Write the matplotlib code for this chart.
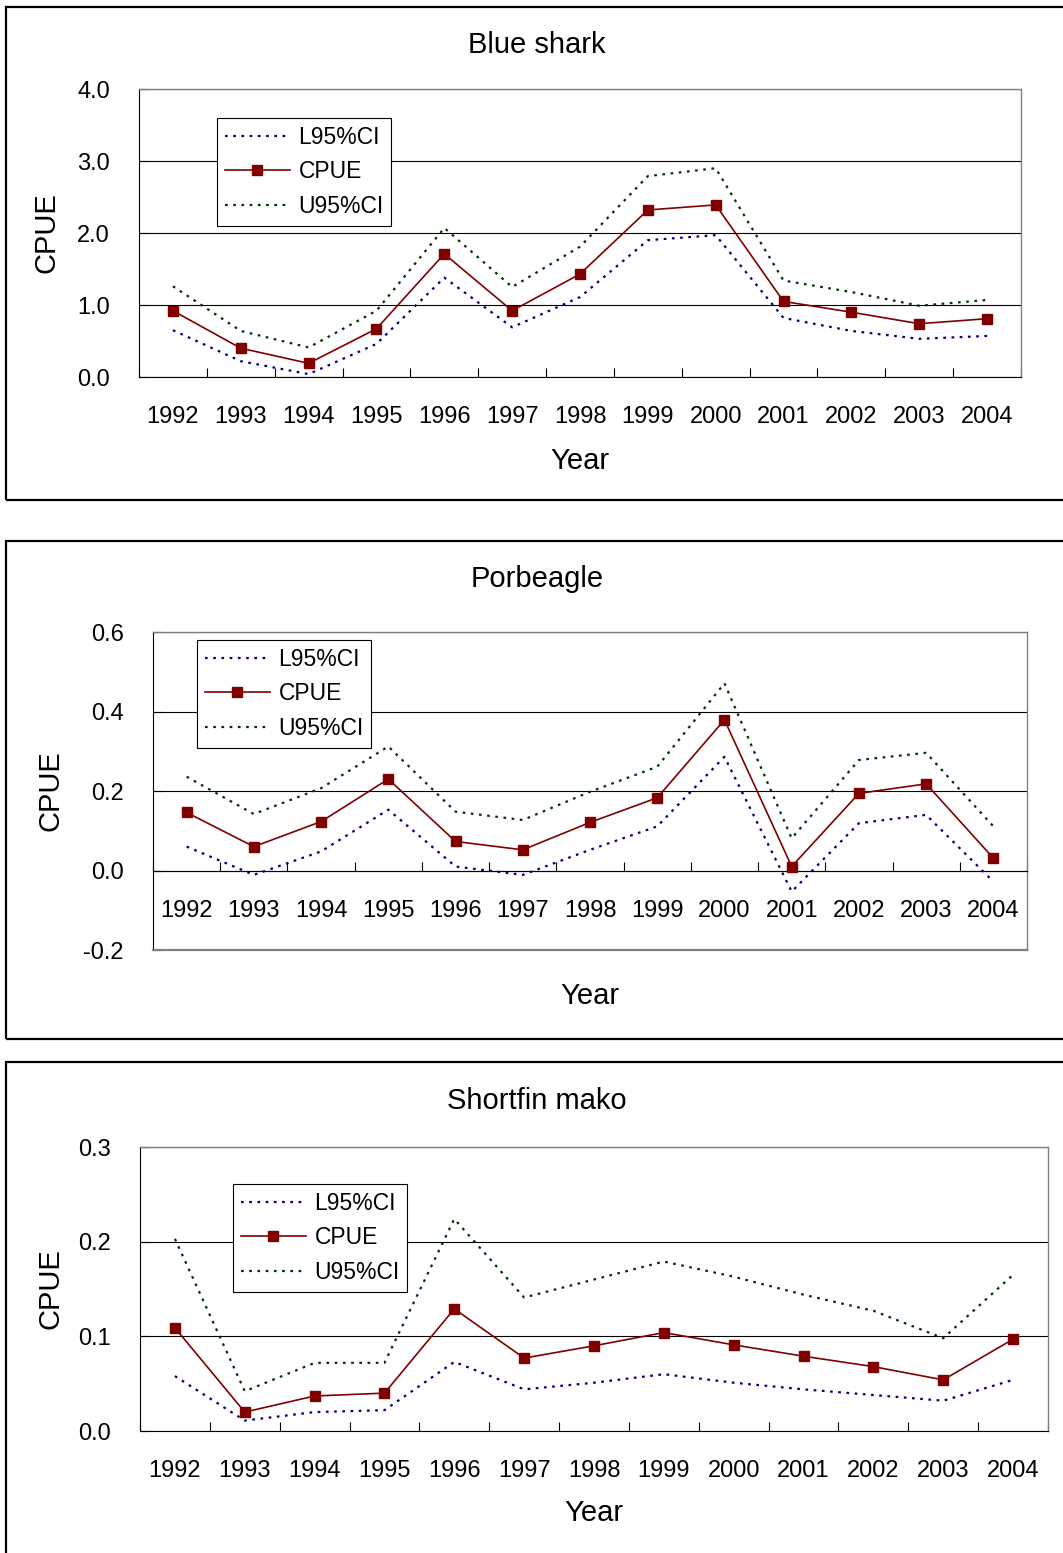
import numpy as np
import matplotlib
matplotlib.use("Agg")
import matplotlib.pyplot as plt
from matplotlib.patches import Rectangle
from matplotlib.ticker import FormatStrFormatter

plt.rcParams['font.family'] = ['Liberation Sans', 'DejaVu Sans']

years = [str(y) for y in range(1992, 2005)]

# Blue shark
blue_cpue = [0.92, 0.40, 0.19, 0.67, 1.71, 0.92, 1.43, 2.32, 2.39, 1.05, 0.90, 0.74, 0.81]
blue_l95 = [0.65, 0.22, 0.04, 0.46, 1.38, 0.69, 1.11, 1.90, 1.97, 0.82, 0.64, 0.53, 0.57]
blue_u95 = [1.26, 0.64, 0.41, 0.92, 2.07, 1.25, 1.81, 2.79, 2.90, 1.34, 1.18, 0.99, 1.07]

# Porbeagle
porb_cpue = [0.146, 0.060, 0.123, 0.230, 0.073, 0.052, 0.121, 0.183, 0.379, 0.010, 0.194, 0.218, 0.031]
porb_l95 = [0.060, -0.011, 0.048, 0.153, 0.010, -0.011, 0.052, 0.111, 0.286, -0.053, 0.119, 0.140, -0.028]
porb_u95 = [0.236, 0.142, 0.207, 0.312, 0.148, 0.127, 0.198, 0.261, 0.471, 0.081, 0.278, 0.296, 0.111]

# Shortfin mako
mako_cpue = [0.109, 0.020, 0.037, 0.040, 0.129, 0.077, 0.090, 0.104, 0.091, 0.079, 0.068, 0.054, 0.097]
mako_l95 = [0.058, 0.011, 0.020, 0.022, 0.073, 0.044, 0.051, 0.060, 0.051, 0.044, 0.038, 0.032, 0.054]
mako_u95 = [0.203, 0.042, 0.072, 0.072, 0.224, 0.141, 0.160, 0.179, 0.163, 0.144, 0.127, 0.098, 0.165]

W, H = 1063, 1553
fig = plt.figure(figsize=(W / 100, H / 100), dpi=100)

DOTS = (0, (1.2, 2.5))


def px_rect(l, t, r, b):
    return [l / W, 1 - b / H, (r - l) / W, (b - t) / H]


def draw_panel(title, cpue, l95, u95, ylim, yticks, frame, plot, legend_xy,
               title_y, ylabel_x, xlabel_y, zero_axis=False):
    # outer chart frame
    fl, ft, fr, fb = frame
    fig.patches.append(Rectangle((fl / W, 1 - fb / H), (fr - fl) / W, (fb - ft) / H,
                                 transform=fig.transFigure, fill=False,
                                 edgecolor='black', linewidth=1.6))

    ax = fig.add_axes(px_rect(*plot))
    x = np.arange(len(years))

    ax.plot(x, l95, color='#000080', linewidth=1.6, linestyle=DOTS,
            label='L95%CI', zorder=3)
    ax.plot(x, cpue, color='#800000', linewidth=1.2, marker='s', markersize=6.5,
            label='CPUE', zorder=4)
    ax.plot(x, u95, color='#003300', linewidth=1.6, linestyle=DOTS,
            label='U95%CI', zorder=3)

    ax.set_xlim(-0.5, len(years) - 0.5)
    ax.set_ylim(*ylim)
    ax.set_yticks(yticks)
    ax.yaxis.set_major_formatter(FormatStrFormatter('%.1f'))
    ax.grid(axis='y', color='black', linewidth=0.8)
    ax.set_axisbelow(True)

    # ticks between categories, labels at category centres
    ax.set_xticks(np.arange(-0.5, len(years), 1))
    ax.set_xticklabels([])
    ax.set_xticks(x, minor=True)
    ax.set_xticklabels(years, minor=True)
    ax.tick_params(axis='x', which='major', direction='in', length=6.5, width=0.8)
    ax.tick_params(axis='x', which='minor', length=0, pad=21, labelsize=17)
    ax.tick_params(axis='y', direction='in', length=6.5, width=0.8, pad=21, labelsize=17)

    for s in ['top', 'right']:
        ax.spines[s].set_color('#808080')
        ax.spines[s].set_linewidth(1.0)
    ax.spines['left'].set_color('black')
    ax.spines['bottom'].set_color('black')
    if zero_axis:
        ax.spines['bottom'].set_position(('data', 0))
        ax.axhline(ylim[0], color='#808080', linewidth=1.6, zorder=5, clip_on=False)

    fig.text(537 / W, 1 - title_y / H, title, fontsize=21, ha='center', va='center')

    ax.set_ylabel('CPUE', fontsize=21)
    ax.yaxis.set_label_coords((ylabel_x - plot[0]) / (plot[2] - plot[0]), 0.5)
    ax.set_xlabel('Year', fontsize=21)
    ax.xaxis.set_label_coords(0.5, (plot[3] - xlabel_y) / (plot[3] - plot[1]))
    ax.xaxis.label.set_va('center')
    ax.yaxis.label.set_va('center')

    leg = ax.legend(loc='upper left',
                    bbox_to_anchor=(legend_xy[0] / W, 1 - legend_xy[1] / H),
                    bbox_transform=fig.transFigure, borderaxespad=0, fontsize=16.5,
                    fancybox=False, framealpha=1, edgecolor='black',
                    handlelength=2.85, handletextpad=0.38, labelspacing=0.52,
                    borderpad=0.33)
    leg.get_frame().set_linewidth(0.8)
    leg.set_zorder(10)
    return ax


draw_panel('Blue shark', blue_cpue, blue_l95, blue_u95, (0, 4), [0, 1, 2, 3, 4],
           frame=(6, 7, 1075, 500), plot=(139, 89, 1021, 377), legend_xy=(217, 118),
           title_y=45, ylabel_x=47, xlabel_y=461)

draw_panel('Porbeagle', porb_cpue, porb_l95, porb_u95, (-0.2, 0.6),
           [-0.2, 0.0, 0.2, 0.4, 0.6],
           frame=(6, 541, 1075, 1039), plot=(153, 632, 1027, 950), legend_xy=(197, 640),
           title_y=579, ylabel_x=50, xlabel_y=996, zero_axis=True)

draw_panel('Shortfin mako', mako_cpue, mako_l95, mako_u95, (0, 0.3), [0, 0.1, 0.2, 0.3],
           frame=(6, 1062, 1075, 1600), plot=(140, 1147, 1048, 1431), legend_xy=(233, 1184),
           title_y=1101, ylabel_x=50, xlabel_y=1513)

fig.savefig('out.png', dpi=100)
